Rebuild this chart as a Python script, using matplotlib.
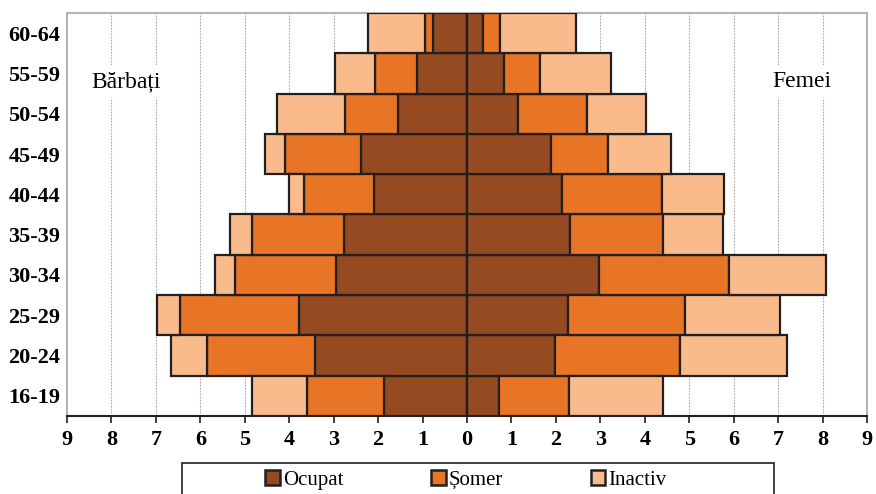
import matplotlib
matplotlib.use("Agg")
import matplotlib.pyplot as plt
from matplotlib.patches import Rectangle, Patch
import numpy as np

plt.rcParams['font.family'] = ['Liberation Serif', 'DejaVu Serif']

age_groups = ["16-19", "20-24", "25-29", "30-34", "35-39", "40-44", "45-49", "50-54", "55-59", "60-64"]

men_ocupat  = [1.87, 3.41, 3.79, 2.94, 2.77, 2.09, 2.38, 1.55, 1.12, 0.77]
men_somer   = [1.72, 2.45, 2.67, 2.29, 2.06, 1.57, 1.71, 1.20, 0.96, 0.18]
men_inactiv = [1.24, 0.79, 0.51, 0.43, 0.51, 0.35, 0.45, 1.52, 0.90, 1.28]

women_ocupat  = [0.72, 1.97, 2.27, 2.97, 2.32, 2.14, 1.90, 1.15, 0.83, 0.35]
women_somer   = [1.58, 2.82, 2.64, 2.93, 2.08, 2.25, 1.27, 1.55, 0.81, 0.39]
women_inactiv = [2.10, 2.40, 2.14, 2.17, 1.35, 1.39, 1.42, 1.32, 1.59, 1.72]

series_names = ["Ocupat", "Șomer", "Inactiv"]
colors = ["#954a21", "#e87425", "#f9bb8c"]
edge = "#231f20"

xticks = list(range(-9, 10))
xtick_labels = [str(abs(t)) for t in xticks]

fig = plt.figure(figsize=(8.76, 4.94), dpi=100)
ax = fig.add_axes([67/876, 1-416/494, 800/876, (416-13)/494])

y = np.arange(len(age_groups))
men = [men_ocupat, men_somer, men_inactiv]
women = [women_ocupat, women_somer, women_inactiv]

# grid lines
for t in xticks:
    if t not in (-9, 0, 9):
        ax.axvline(t, color="#a8a8a8", lw=0.8, ls=(0, (1.5, 1.2)), zorder=0)

left_m = np.zeros(len(y))
left_w = np.zeros(len(y))
for vals_m, vals_w, c in zip(men, women, colors):
    vm = np.array(vals_m)
    vw = np.array(vals_w)
    ax.barh(y, -vm, left=-left_m, height=1.0, color=c, edgecolor=edge, linewidth=1.6, zorder=3)
    ax.barh(y, vw, left=left_w, height=1.0, color=c, edgecolor=edge, linewidth=1.6, zorder=3)
    left_m += vm
    left_w += vw

ax.axvline(0, color=edge, lw=1.6, zorder=4)

ax.set_xlim(-9, 9)
ax.set_ylim(-0.5, len(y) - 0.5)
ax.set_xticks(xticks)
ax.set_xticklabels(xtick_labels, fontsize=16, fontweight='bold')
ax.set_yticks(y)
ax.set_yticklabels(age_groups, fontsize=16, fontweight='bold')
ax.tick_params(axis='y', length=0, pad=5)
ax.tick_params(axis='x', length=5, width=1.2, color=edge, pad=5)

for s in ['left', 'top', 'right']:
    ax.spines[s].set_color("#b4b4b4")
    ax.spines[s].set_linewidth(1.5)
ax.spines['bottom'].set_color(edge)
ax.spines['bottom'].set_linewidth(1.5)

ax.text(-7.68, 7.8, "Bărbați", fontsize=17, ha='center', va='center', zorder=2,
        bbox=dict(facecolor='white', edgecolor='none', pad=4))
ax.text(7.53, 7.8, "Femei", fontsize=17, ha='center', va='center', zorder=2,
        bbox=dict(facecolor='white', edgecolor='none', pad=4))

# legend box
fig.patches.append(Rectangle((182/876, -0.02), (774-182)/876, (1-463/494) + 0.02,
                             transform=fig.transFigure, fill=False, edgecolor=edge, lw=1.2))
handles = [Patch(facecolor=c, edgecolor=edge, linewidth=1.8) for c in colors]
fig.legend(handles, series_names, loc='center', bbox_to_anchor=(466/876, 1-480/494),
           ncol=3, frameon=False, fontsize=15, handlelength=0.7, handleheight=0.7,
           handletextpad=0.15, columnspacing=4.2, borderpad=0)

fig.savefig("out.png", dpi=100)
